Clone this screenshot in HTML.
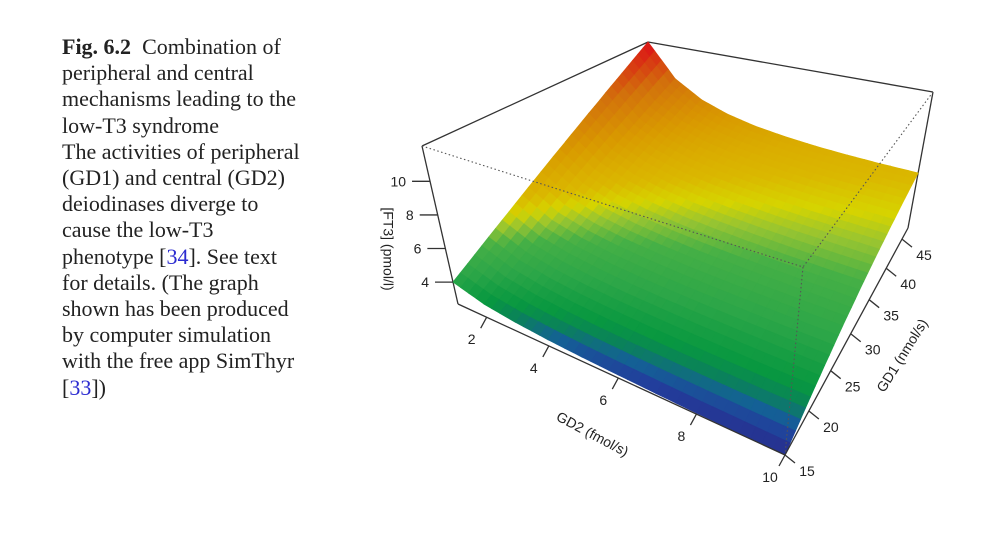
<!DOCTYPE html>
<html><head><meta charset="utf-8">
<style>
html,body{margin:0;padding:0;background:#fff;}
#wrap{position:relative;width:1000px;height:533px;overflow:hidden;background:#fff;}
#caption{position:absolute;left:62px;top:34px;width:270px;font-family:"Liberation Serif",serif;font-size:22px;line-height:26.2px;color:#222;white-space:nowrap;}
#caption .ref{color:#2b2bd0;}
svg{position:absolute;left:0;top:0;}
svg text{font-family:"Liberation Sans",sans-serif;font-size:14px;fill:#222;}
</style></head><body>
<div id="wrap">
<div id="caption"><b>Fig. 6.2</b>&nbsp; Combination of<br>peripheral and central<br>mechanisms leading to the<br>low-T3 syndrome<br>The activities of peripheral<br>(GD1) and central (GD2)<br>deiodinases diverge to<br>cause the low-T3<br>phenotype [<span class="ref">34</span>]. See text<br>for details. (The graph<br>shown has been produced<br>by computer simulation<br>with the free app SimThyr<br>[<span class="ref">33</span>])</div>
<svg id="chart" width="1000" height="533"></svg>
</div>
<script>
// ---- data ----
const gd2Values = [1,2,3,4,5,6,7,8,9,10];
const gd1Values = [15,19,23,27,31,35,39,43,47];
// FT3 (pmol/l): rows = gd1Values, cols = gd2Values
const ft3Row15 = [4.00,3.47,3.21,3.05,2.94,2.87,2.81,2.76,2.73,2.70];
const ft3Row19 = [5.01,4.31,3.96,3.75,3.61,3.51,3.44,3.38,3.33,3.30];
const ft3Row23 = [6.02,5.14,4.70,4.43,4.25,4.13,4.03,3.96,3.90,3.85];
const ft3Row27 = [7.04,5.96,5.42,5.09,4.88,4.72,4.61,4.52,4.44,4.39];
const ft3Row31 = [8.05,6.76,6.11,5.72,5.46,5.28,5.14,5.03,4.95,4.88];
const ft3Row35 = [9.06,7.54,6.78,6.33,6.02,5.81,5.65,5.52,5.42,5.34];
const ft3Row39 = [10.07,8.31,7.43,6.90,6.55,6.30,6.11,5.96,5.85,5.75];
const ft3Row43 = [11.08,9.07,8.06,7.46,7.05,6.77,6.55,6.38,6.25,6.14];
const ft3Row47 = [12.10,9.82,8.68,7.99,7.53,7.21,6.96,6.77,6.62,6.50];
const ft3Rows = [ft3Row15,ft3Row19,ft3Row23,ft3Row27,ft3Row31,ft3Row35,ft3Row39,ft3Row43,ft3Row47];
const zTicks = [4,6,8,10];
const gd2Ticks = [2,4,6,8,10];
const gd1Ticks = [15,20,25,30,35,40,45];

// ---- projection ----
const svg = document.getElementById('chart');
const NS = 'http://www.w3.org/2000/svg';
const G2MIN=1, G2MAX=10, G1MIN=15, G1MAX=47, ZMIN=2.7, ZMAX=12.1, K=0.3;
const C = {
  TL:[422,146], BL:[458,304], TF:[803,267], BF:[785,455],
  TR:[933,92], BR:[908,228], TB:[648,42], BB:[660,175]
};
function warp(t){ return (1+K)*t/(1+K*t); }
function uOf(g2){ const t=(g2-G2MIN)/(G2MAX-G2MIN); return 1-warp(1-t); }
function vOf(g1){ return warp((g1-G1MIN)/(G1MAX-G1MIN)); }
function wOf(z){ return (z-ZMIN)/(ZMAX-ZMIN); }
function bil(a,b,c,d,u,v){
  return [a[0]*(1-u)*(1-v)+b[0]*u*(1-v)+c[0]*u*v+d[0]*(1-u)*v,
          a[1]*(1-u)*(1-v)+b[1]*u*(1-v)+c[1]*u*v+d[1]*(1-u)*v];
}
function P(u,v,w){
  const b=bil(C.BL,C.BF,C.BR,C.BB,u,v), t=bil(C.TL,C.TF,C.TR,C.TB,u,v);
  return [b[0]+(t[0]-b[0])*w, b[1]+(t[1]-b[1])*w];
}
function proj(g2,g1,z){ return P(uOf(g2),vOf(g1),wOf(z)); }

const stops=[[2.7,[40,44,138]],[2.9,[34,62,156]],[3.1,[20,96,150]],[3.3,[10,130,90]],[3.55,[8,152,64]],[4.2,[44,166,72]],[5.0,[70,176,70]],[5.5,[150,196,50]],[5.9,[214,212,0]],[6.4,[218,184,0]],[7.8,[217,156,0]],[9.8,[210,112,12]],[12.1,[221,10,24]]];
function colorOf(z){
  if(z<=stops[0][0]) return 'rgb('+stops[0][1]+')';
  for(let i=1;i<stops.length;i++){
    if(z<=stops[i][0]){
      const a=stops[i-1],b=stops[i],t=(z-a[0])/(b[0]-a[0]);
      return 'rgb('+a[1].map((c,k)=>Math.round(c+(b[1][k]-c)*t)).join(',')+')';
    }
  }
  return 'rgb('+stops[stops.length-1][1]+')';
}
function mk(tag,attrs,parent){
  const e=document.createElementNS(NS,tag);
  for(const k in attrs) e.setAttribute(k,attrs[k]);
  (parent||svg).appendChild(e); return e;
}
function line(a,b,style,name){
  const e=mk('line',{x1:a[0],y1:a[1],x2:b[0],y2:b[1],stroke:style.c||'#333','stroke-width':style.w||1.3,'stroke-dasharray':style.d||'none'});
  
  
  return e;
}

line(C.TL,C.TB,{},'box-edge-back-left');
line(C.TB,C.TR,{},'box-edge-back-right');
line(C.TL,C.BL,{},'box-edge-left');
line(C.TR,C.BR,{},'box-edge-right');

const surf=mk('g',{});


const quads=[];
const SUB=4;
for(let j=0;j<gd1Values.length-1;j++){
  for(let i=0;i<gd2Values.length-1;i++){
    const z00=ft3Rows[j][i], z10=ft3Rows[j][i+1], z01=ft3Rows[j+1][i], z11=ft3Rows[j+1][i+1];
    for(let sj=0;sj<SUB;sj++) for(let si=0;si<SUB;si++){
      const pts=[];let zs=0;
      [[si,sj],[si+1,sj],[si+1,sj+1],[si,sj+1]].forEach(([a,b])=>{
        const s=a/SUB,t=b/SUB;
        const z=z00*(1-s)*(1-t)+z10*s*(1-t)+z01*(1-s)*t+z11*s*t;
        const g2=gd2Values[i]+(gd2Values[i+1]-gd2Values[i])*s;
        const g1=gd1Values[j]+(gd1Values[j+1]-gd1Values[j])*t;
        pts.push(proj(g2,g1,z)); zs+=z;
      });
      const uc=(i+(si+.5)/SUB), vc=(j+(sj+.5)/SUB);
      quads.push({pts,z:zs/4,depth:uc/9-vc/8});
    }
  }
}
quads.sort((a,b)=>a.depth-b.depth);
quads.forEach(q=>{
  const col=colorOf(q.z);
  const p=mk('polygon',{points:q.pts.map(p=>p[0].toFixed(1)+','+p[1].toFixed(1)).join(' '),fill:col,stroke:col,'stroke-width':0.8},surf);
  
  
});

line(C.TL,C.TF,{d:'1.5 2.5',c:'#555',w:1.1},'box-edge-top-front-left');
line(C.TR,C.TF,{d:'1.5 2.5',c:'#555',w:1.1},'box-edge-top-front-right');
line(C.TF,C.BF,{d:'1.5 2.5',c:'#555',w:1.1},'box-edge-front-vertical');
line(C.BL,C.BF,{},'gd2-axis-line');
line(C.BF,C.BR,{},'gd1-axis-line');

zTicks.forEach(z=>{
  const p=proj(G2MIN,G1MIN,z);
  line(p,[p[0]-18,p[1]],{},'z-tick');
  const t=mk('text',{x:p[0]-24,y:p[1]+5,'text-anchor':'end'});
  t.textContent=z;
  
  
});
gd2Ticks.forEach(g=>{
  const p=proj(g,G1MIN,ZMIN);
  line(p,[p[0]-6,p[1]+11],{},'gd2-tick');
  const t=mk('text',{x:p[0]-15,y:p[1]+27,'text-anchor':'middle'});
  t.textContent=g;
  
  
});
gd1Ticks.forEach(g=>{
  const p=proj(G2MAX,g,ZMIN);
  line(p,[p[0]+10,p[1]+8],{},'gd1-tick');
  const t=mk('text',{x:p[0]+22,y:p[1]+21,'text-anchor':'middle'});
  t.textContent=g;
  
  
});
function title(txt,x,y,ang,name){
  const t=mk('text',{x:x,y:y,'text-anchor':'middle','dominant-baseline':'middle',transform:'rotate('+ang+' '+x+' '+y+')'});
  t.textContent=txt;
  
  
}
title('[FT3] (pmol/l)',387,249,90,'z-axis-title');
title('GD2 (fmol/s)',592,435,28,'gd2-axis-title');
title('GD1 (nmol/s)',903,356,-58,'gd1-axis-title');
</script>
</body></html>
